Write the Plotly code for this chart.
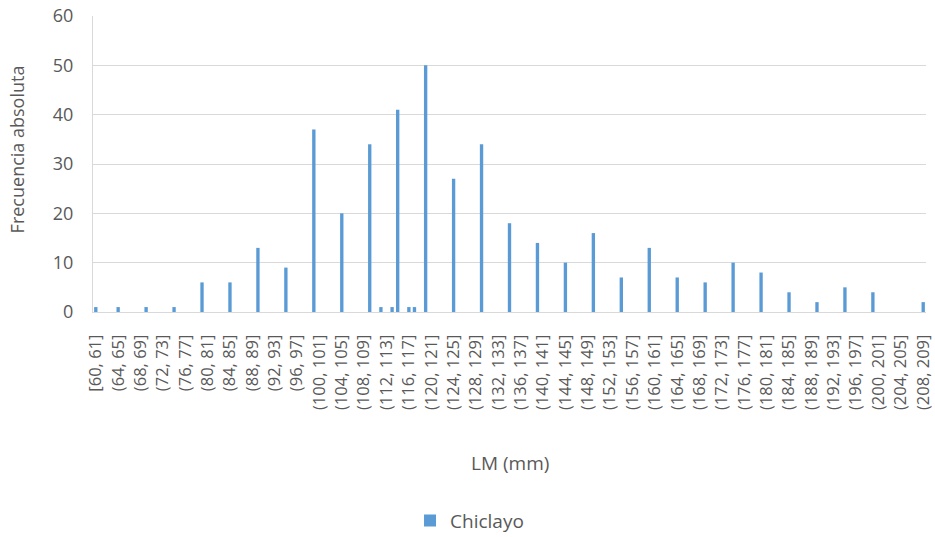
import plotly.graph_objects as go

# ── Data ──────────────────────────────────────────────────────────────────────
# Lower edges of the 1 mm bins, [60, 61] up to (208, 209]
BIN_LOWER = list(range(60, 209))
BIN_LABELS = ["[60, 61]"] + [f"({lo}, {lo + 1}]" for lo in BIN_LOWER[1:]]

# Frecuencia absoluta per bin (149 bins)
COUNTS = [
    1, 0, 0, 0, 1, 0, 0, 0, 0, 1,      # 60-69
    0, 0, 0, 0, 1, 0, 0, 0, 0, 6,      # 70-79
    0, 0, 0, 0, 6, 0, 0, 0, 0, 13,     # 80-89
    0, 0, 0, 0, 9, 0, 0, 0, 0, 37,     # 90-99
    0, 0, 0, 0, 20, 0, 0, 0, 0, 34,    # 100-109
    0, 1, 0, 1, 41, 0, 1, 1, 0, 50,    # 110-119
    0, 0, 0, 0, 27, 0, 0, 0, 0, 34,    # 120-129
    0, 0, 0, 0, 18, 0, 0, 0, 0, 14,    # 130-139
    0, 0, 0, 0, 10, 0, 0, 0, 0, 16,    # 140-149
    0, 0, 0, 0, 7, 0, 0, 0, 0, 13,     # 150-159
    0, 0, 0, 0, 7, 0, 0, 0, 0, 6,      # 160-169
    0, 0, 0, 0, 10, 0, 0, 0, 0, 8,     # 170-179
    0, 0, 0, 0, 4, 0, 0, 0, 0, 2,      # 180-189
    0, 0, 0, 0, 5, 0, 0, 0, 0, 4,      # 190-199
    0, 0, 0, 0, 0, 0, 0, 0, 2,         # 200-208
]

# Only every 4th bin is labelled on the axis
TICK_LABELS = BIN_LABELS[::4]

SERIES_NAME = "Chiclayo"

# ── Style ─────────────────────────────────────────────────────────────────────
BLUE = "#5b9bd5"
GRID = "#d9d9d9"
TEXT = "#595959"
FONT = "Open Sans"

fig = go.Figure()
fig.add_trace(go.Bar(
    x=BIN_LABELS, y=COUNTS,
    name=SERIES_NAME,
    marker=dict(color=BLUE, line=dict(width=0)),
    showlegend=True,
))

fig.update_layout(
    width=935, height=537,
    plot_bgcolor="white", paper_bgcolor="white",
    font=dict(family=FONT, size=18, color=TEXT),
    margin=dict(l=93, r=9, t=16, b=225, autoexpand=False),
    bargap=0.4,
    xaxis=dict(
        type="category", automargin=False,
        categoryorder="array", categoryarray=BIN_LABELS,
        tickmode="array", tickvals=TICK_LABELS, ticktext=TICK_LABELS,
        tickangle=-90,
        tickfont=dict(size=16.5, color=TEXT),
        ticks="outside", ticklen=15, tickcolor="rgba(0,0,0,0)",
        showgrid=False, showline=True, linecolor=GRID, linewidth=1,
        range=[-0.5, len(BIN_LABELS) - 0.5],
    ),
    yaxis=dict(
        range=[0, 60], dtick=10, automargin=False,
        tickfont=dict(size=18, color=TEXT),
        ticks="outside", ticklen=15, tickcolor="rgba(0,0,0,0)",
        gridcolor=GRID, gridwidth=1,
        showline=True, linecolor=GRID, linewidth=1,
        zeroline=False,
    ),
    legend=dict(
        orientation="h", x=0.452, xanchor="center", y=-0.705, yanchor="middle",
        font=dict(size=19, color=TEXT),
    ),
)

fig.add_annotation(
    text="Frecuencia absoluta", xref="paper", yref="paper",
    x=-0.091, y=0.55, xanchor="center", yanchor="middle", textangle=-90,
    showarrow=False, font=dict(size=18, color=TEXT),
)
fig.add_annotation(
    text="LM (mm)", xref="paper", yref="paper",
    x=0.5, y=-0.51, yanchor="middle",
    showarrow=False, font=dict(size=19, color=TEXT),
)

# drop the browser's default 8px body margin so the figure sits at 0,0
fig.write_html(
    "out.html",
    config=dict(displayModeBar=False),
    post_script="document.body.style.margin='0';",
)
